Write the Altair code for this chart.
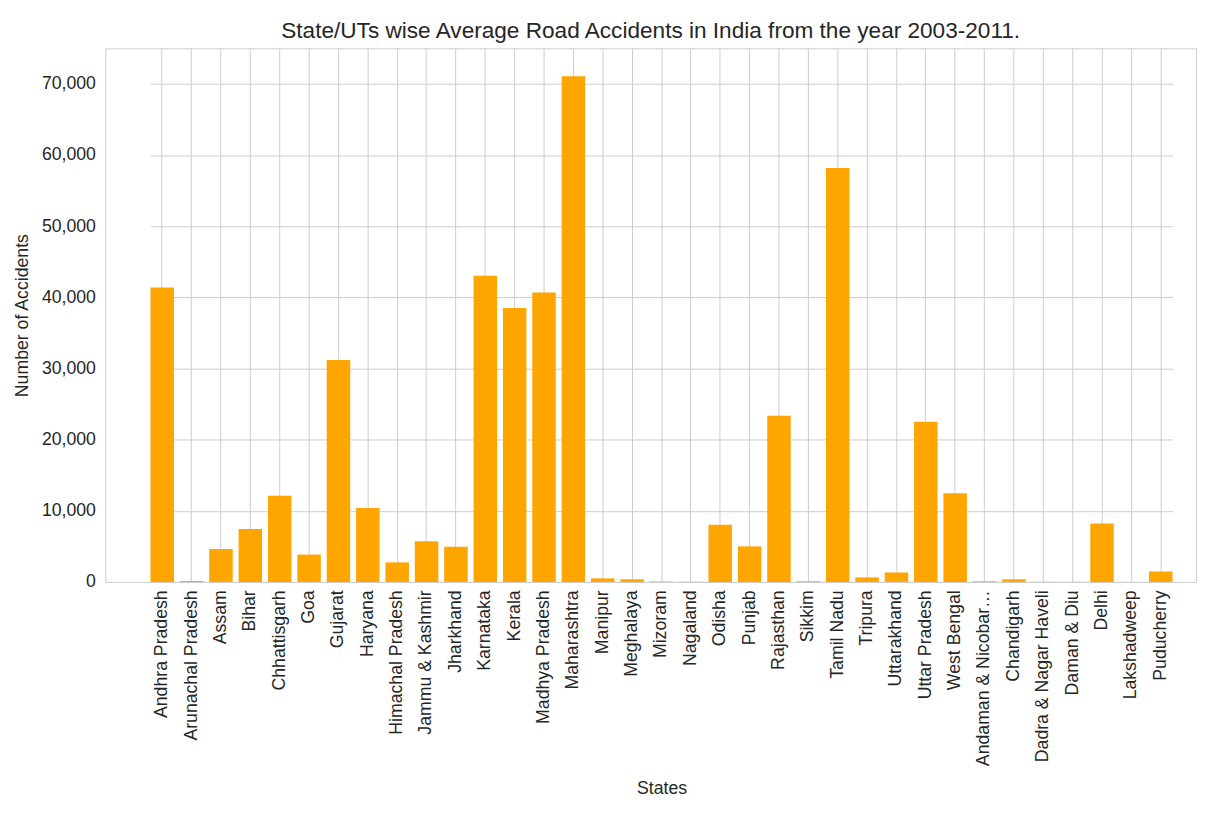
import altair as alt
import pandas as pd

states = ['Andhra Pradesh', 'Arunachal Pradesh', 'Assam', 'Bihar', 'Chhattisgarh', 'Goa',
          'Gujarat', 'Haryana', 'Himachal Pradesh', 'Jammu & Kashmir', 'Jharkhand',
          'Karnataka', 'Kerala', 'Madhya Pradesh', 'Maharashtra', 'Manipur', 'Meghalaya',
          'Mizoram', 'Nagaland', 'Odisha', 'Punjab', 'Rajasthan', 'Sikkim', 'Tamil Nadu',
          'Tripura', 'Uttarakhand', 'Uttar Pradesh', 'West Bengal',
          'Andaman & Nicobar Islands', 'Chandigarh', 'Dadra & Nagar Haveli', 'Daman & Diu',
          'Delhi', 'Lakshadweep', 'Puducherry']
accidents = [41380, 140, 4630, 7430, 12110, 3850,
             31190, 10410, 2750, 5730, 4950,
             43030, 38490, 40690, 71070, 500, 370,
             60, 40, 8030, 5000, 23350, 100, 58200,
             640, 1330, 22520, 12480,
             100, 370, 30, 20,
             8210, 5, 1470]

df = pd.DataFrame({'State': states, 'Accidents': accidents})

chart = alt.Chart(df).mark_bar(color='orange').encode(
    alt.X('State:N', sort=states, title='States',
          scale=alt.Scale(paddingInner=0.2, paddingOuter=0, range=[46, 1086]),
          axis=alt.Axis(labelAngle=-90, bandPosition=0.5, ticks=False, domain=False,
                        grid=True, labelPadding=8, titlePadding=14)),
    alt.Y('Accidents:Q', title='Number of Accidents',
          scale=alt.Scale(domain=[0, 75000], nice=False),
          axis=alt.Axis(values=list(range(0, 70001, 10000)), ticks=False, domain=False,
                        labelPadding=10, titlePadding=10)),
).properties(
    width=1110,
    height=543,
    title='State/UTs wise Average Road Accidents in India from the year 2003-2011.'
).configure(
    font='Liberation Sans'
).configure_view(
    stroke='#cccccc'
).configure_axis(
    gridColor='#cccccc', labelFontSize=18, titleFontSize=18, labelColor='#262626',
    titleColor='#262626', titleFontWeight='normal', labelFont='Liberation Sans',
    titleFont='Liberation Sans'
).configure_title(
    fontSize=23, fontWeight='normal', color='#262626', offset=6
)

chart.save("out.html", embed_options={"renderer": "svg", "actions": False})
